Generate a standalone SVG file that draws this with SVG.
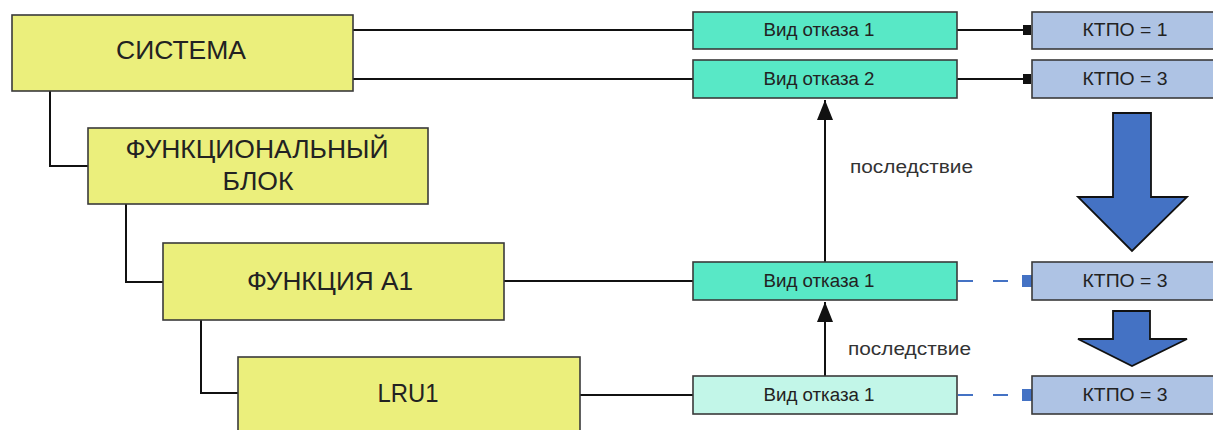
<svg xmlns="http://www.w3.org/2000/svg" width="1213" height="430" viewBox="0 0 1213 430">
  <defs>
    <style>
      .lvl { fill: #ebef7c; stroke: #3a3a3a; stroke-width: 1.6; }
      .fm { fill: #58e8c6; stroke: #3a3a3a; stroke-width: 1.6; }
      .fm-low { fill: #c2f6e8; stroke: #3a3a3a; stroke-width: 1.6; }
      .ktpo { fill: #aec3e4; stroke: #3a3a3a; stroke-width: 1.6; }
      .big { font-family: "Liberation Sans", Arial, sans-serif; font-size: 25px; fill: #222; text-anchor: middle; }
      .small { font-family: "Liberation Sans", Arial, sans-serif; font-size: 18px; fill: #222; text-anchor: middle; }
      .note { font-family: "Liberation Sans", Arial, sans-serif; font-size: 18px; fill: #333; }
      .wire { fill: none; stroke: #111; stroke-width: 2; }
      .dash { fill: none; stroke: #4472c4; stroke-width: 2; stroke-dasharray: 15 20; }
      .bigarrow { fill: #4472c4; stroke: #111; stroke-width: 1.8; stroke-linejoin: miter; }
    </style>
    <marker id="tri" viewBox="0 0 20 16" refX="20" refY="8" markerWidth="20" markerHeight="16" markerUnits="userSpaceOnUse" orient="auto">
      <path d="M0,0 L20,8 L0,16 Z" fill="#111"/>
    </marker>
  </defs>

  <!-- connectors -->
  <g id="connectors">
    <!-- hierarchy -->
    <path class="wire" d="M50,91 V166 H88"/>
    <path class="wire" d="M126,204 V282 H163"/>
    <path class="wire" d="M201,320 V393 H238"/>
    <!-- level to failure mode -->
    <path class="wire" d="M353,30 H693"/>
    <path class="wire" d="M353,79 H693"/>
    <path class="wire" d="M504,281 H693"/>
    <path class="wire" d="M580,395 H693"/>
    <!-- failure mode to KTPO -->
    <path class="wire" d="M957,30 H1025"/>
    <rect x="1023" y="25" width="8" height="10" fill="#111"/>
    <path class="wire" d="M957,79 H1025"/>
    <rect x="1023" y="74" width="8" height="10" fill="#111"/>
    <path class="dash" d="M958,281 H1022"/>
    <rect x="1022" y="275" width="13" height="12" fill="#4472c4"/>
    <path class="dash" d="M958,395 H1022"/>
    <rect x="1022" y="389" width="13" height="12" fill="#4472c4"/>
    <!-- consequence arrows -->
    <path class="wire" d="M825,262 V100" marker-end="url(#tri)"/>
    <path class="wire" d="M825,376 V302" marker-end="url(#tri)"/>
    <text class="note" x="850" y="173" textLength="123" lengthAdjust="spacingAndGlyphs">последствие</text>
    <text class="note" x="848" y="355" textLength="123" lengthAdjust="spacingAndGlyphs">последствие</text>
  </g>

  <!-- hierarchy levels -->
  <g id="system">
    <rect class="lvl" x="12" y="15" width="341" height="76"/>
    <text class="big" x="181" y="59" textLength="130" lengthAdjust="spacingAndGlyphs">СИСТЕМА</text>
  </g>
  <g id="functional-block">
    <rect class="lvl" x="88" y="128" width="340" height="76"/>
    <text class="big" x="257" y="158" textLength="263" lengthAdjust="spacingAndGlyphs">ФУНКЦИОНАЛЬНЫЙ</text>
    <text class="big" x="258" y="190" textLength="71" lengthAdjust="spacingAndGlyphs">БЛОК</text>
  </g>
  <g id="function-a1">
    <rect class="lvl" x="163" y="243" width="341" height="77"/>
    <text class="big" x="330" y="290" textLength="166" lengthAdjust="spacingAndGlyphs">ФУНКЦИЯ А1</text>
  </g>
  <g id="lru1">
    <rect class="lvl" x="238" y="357" width="342" height="90"/>
    <text class="big" x="408" y="402" textLength="61" lengthAdjust="spacingAndGlyphs">LRU1</text>
  </g>

  <!-- failure modes -->
  <g id="fm-system-1">
    <rect class="fm" x="693" y="12" width="264" height="37"/>
    <text class="small" x="819" y="36" textLength="111" lengthAdjust="spacingAndGlyphs">Вид отказа 1</text>
  </g>
  <g id="fm-system-2">
    <rect class="fm" x="693" y="60" width="264" height="38"/>
    <text class="small" x="819" y="85" textLength="111" lengthAdjust="spacingAndGlyphs">Вид отказа 2</text>
  </g>
  <g id="fm-function-1">
    <rect class="fm" x="693" y="262" width="264" height="38"/>
    <text class="small" x="819" y="287" textLength="111" lengthAdjust="spacingAndGlyphs">Вид отказа 1</text>
  </g>
  <g id="fm-lru-1">
    <rect class="fm-low" x="693" y="376" width="264" height="38"/>
    <text class="small" x="819" y="401" textLength="111" lengthAdjust="spacingAndGlyphs">Вид отказа 1</text>
  </g>

  <!-- KTPO values -->
  <g id="ktpo-1">
    <rect class="ktpo" x="1032" y="12" width="200" height="37"/>
    <text class="small" x="1125" y="36" textLength="85" lengthAdjust="spacingAndGlyphs">КТПО = 1</text>
  </g>
  <g id="ktpo-2">
    <rect class="ktpo" x="1032" y="60" width="200" height="38"/>
    <text class="small" x="1125" y="85" textLength="85" lengthAdjust="spacingAndGlyphs">КТПО = 3</text>
  </g>
  <g id="ktpo-3">
    <rect class="ktpo" x="1032" y="262" width="200" height="38"/>
    <text class="small" x="1125" y="287" textLength="85" lengthAdjust="spacingAndGlyphs">КТПО = 3</text>
  </g>
  <g id="ktpo-4">
    <rect class="ktpo" x="1032" y="376" width="200" height="38"/>
    <text class="small" x="1125" y="401" textLength="85" lengthAdjust="spacingAndGlyphs">КТПО = 3</text>
  </g>

  <!-- block arrows -->
  <g id="arrow-down-large">
    <path class="bigarrow" d="M1113,113 H1151 V197 H1187 L1132,251 L1078,197 H1113 Z"/>
  </g>
  <g id="arrow-down-small">
    <path class="bigarrow" d="M1113,311 H1150 V339 H1187 L1132,366 L1078,339 H1113 Z"/>
  </g>
</svg>
